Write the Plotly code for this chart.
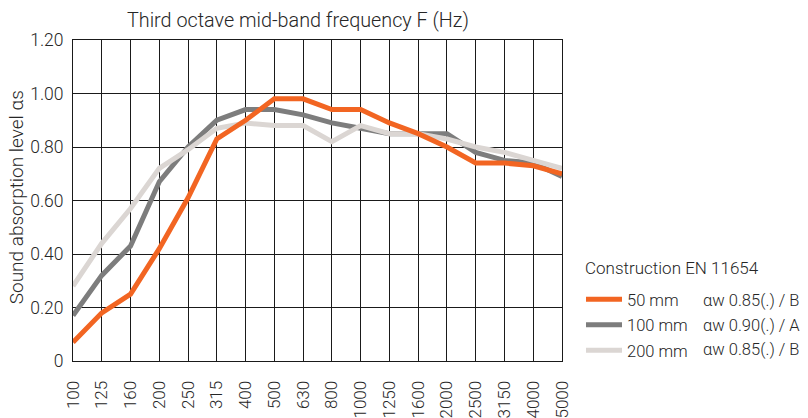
import plotly.graph_objects as go

freqs = ["100", "125", "160", "200", "250", "315", "400", "500", "630", "800",
         "1000", "1250", "1600", "2000", "2500", "3150", "4000", "5000"]
mm50 = [0.07, 0.18, 0.25, 0.42, 0.61, 0.83, 0.90, 0.98, 0.98, 0.94,
        0.94, 0.89, 0.85, 0.80, 0.74, 0.74, 0.73, 0.70]
mm100 = [0.17, 0.32, 0.43, 0.67, 0.80, 0.90, 0.94, 0.94, 0.92, 0.89,
         0.87, 0.85, 0.85, 0.85, 0.78, 0.75, 0.74, 0.69]
mm200 = [0.28, 0.44, 0.57, 0.72, 0.79, 0.87, 0.89, 0.88, 0.88, 0.82,
         0.88, 0.85, 0.85, 0.83, 0.80, 0.78, 0.75, 0.72]
yticks = [0, 0.2, 0.4, 0.6, 0.8, 1.0, 1.2]
ytick_text = ["0", "0.20", "0.40", "0.60", "0.80", "1.00", "1.20"]
legend_title = "Construction EN 11654"
names = ["50 mm", "100 mm", "200 mm"]
ratings = ["αw 0.85(.) / B", "αw 0.90(.) / A", "αw 0.85(.) / B"]

# draw order: grey, light, orange on top; legend order via rank
series = [
    (names[1], mm100, "#7d7d7d", 2),
    (names[2], mm200, "#dbd6d3", 3),
    (names[0], mm50, "#f26522", 1),
]

FONT = "Roboto, Liberation Sans, Arial, sans-serif"
W = 300
TXT = "#262626"

# plot area (in page pixels): x 73..562, y 39.5..361 (body margin removed)
PL, PR, PT, PB = 73, 562, 39.5, 361


def px_x(x):
    return (x - PL) / (PR - PL)


def px_y(y):
    return (PB - y) / (PB - PT)


fig = go.Figure()
for name, vals, col, rank in series:
    fig.add_trace(go.Scatter(
        x=freqs, y=vals, mode="lines", name=name,
        line=dict(color=col, width=5),
        legendrank=rank, legendgroup=name,
    ))

row_y = [300, 325, 349]
annotations = [
    dict(text="Third octave mid-band frequency F (Hz)", xref="paper", yref="paper",
         x=px_x(298), y=px_y(20), xanchor="center", yanchor="middle",
         showarrow=False, font=dict(size=19.8, color=TXT, weight=W)),
    dict(text="Sound absorption level αs", xref="paper", yref="paper",
         x=px_x(16), y=px_y(197), xanchor="center", yanchor="middle",
         textangle=-90, showarrow=False, font=dict(size=19, color=TXT, weight=W)),
    dict(text=legend_title, xref="paper", yref="paper",
         x=px_x(583), y=px_y(268), xanchor="left", yanchor="middle",
         showarrow=False, font=dict(size=17, color=TXT, weight=W)),
]
for r, yy in zip(ratings, row_y):
    annotations.append(dict(text=r, xref="paper", yref="paper",
                            x=px_x(701), y=px_y(yy), xanchor="left", yanchor="middle",
                            showarrow=False, font=dict(size=16.5, color=TXT, weight=W)))

fig.update_layout(
    width=808, height=418,
    margin=dict(l=PL, r=808 - PR, t=PT, b=418 - PB),
    paper_bgcolor="white", plot_bgcolor="white",
    font=dict(family=FONT, size=16, color=TXT, weight=W),
    showlegend=True,
    legend=dict(
        x=px_x(581), xanchor="left", y=px_y(282), yanchor="top",
        font=dict(size=16.5, color=TXT, weight=W),
        tracegroupgap=1, itemwidth=36,
        bgcolor="rgba(0,0,0,0)",
    ),
    xaxis=dict(
        type="category", range=[0, 17], automargin=False,
        showgrid=True, gridcolor="#1a1a1a", gridwidth=1,
        showline=True, linecolor="#1a1a1a", linewidth=1, mirror=True,
        tickangle=-90, ticks="outside", ticklen=12, tickcolor="rgba(0,0,0,0)",
        tickfont=dict(size=17, color=TXT, weight=W), zeroline=False,
    ),
    yaxis=dict(
        range=[0, 1.2], tickvals=yticks, ticktext=ytick_text, automargin=False,
        showgrid=True, gridcolor="#1a1a1a", gridwidth=1,
        showline=True, linecolor="#1a1a1a", linewidth=1, mirror=True,
        ticks="outside", ticklen=5, tickcolor="rgba(0,0,0,0)",
        tickfont=dict(size=17.5, color=TXT, weight=W), zeroline=False,
    ),
    annotations=annotations,
)

fig.write_html("out.html", config={"displayModeBar": False},
               post_script="document.body.style.margin='0';")
